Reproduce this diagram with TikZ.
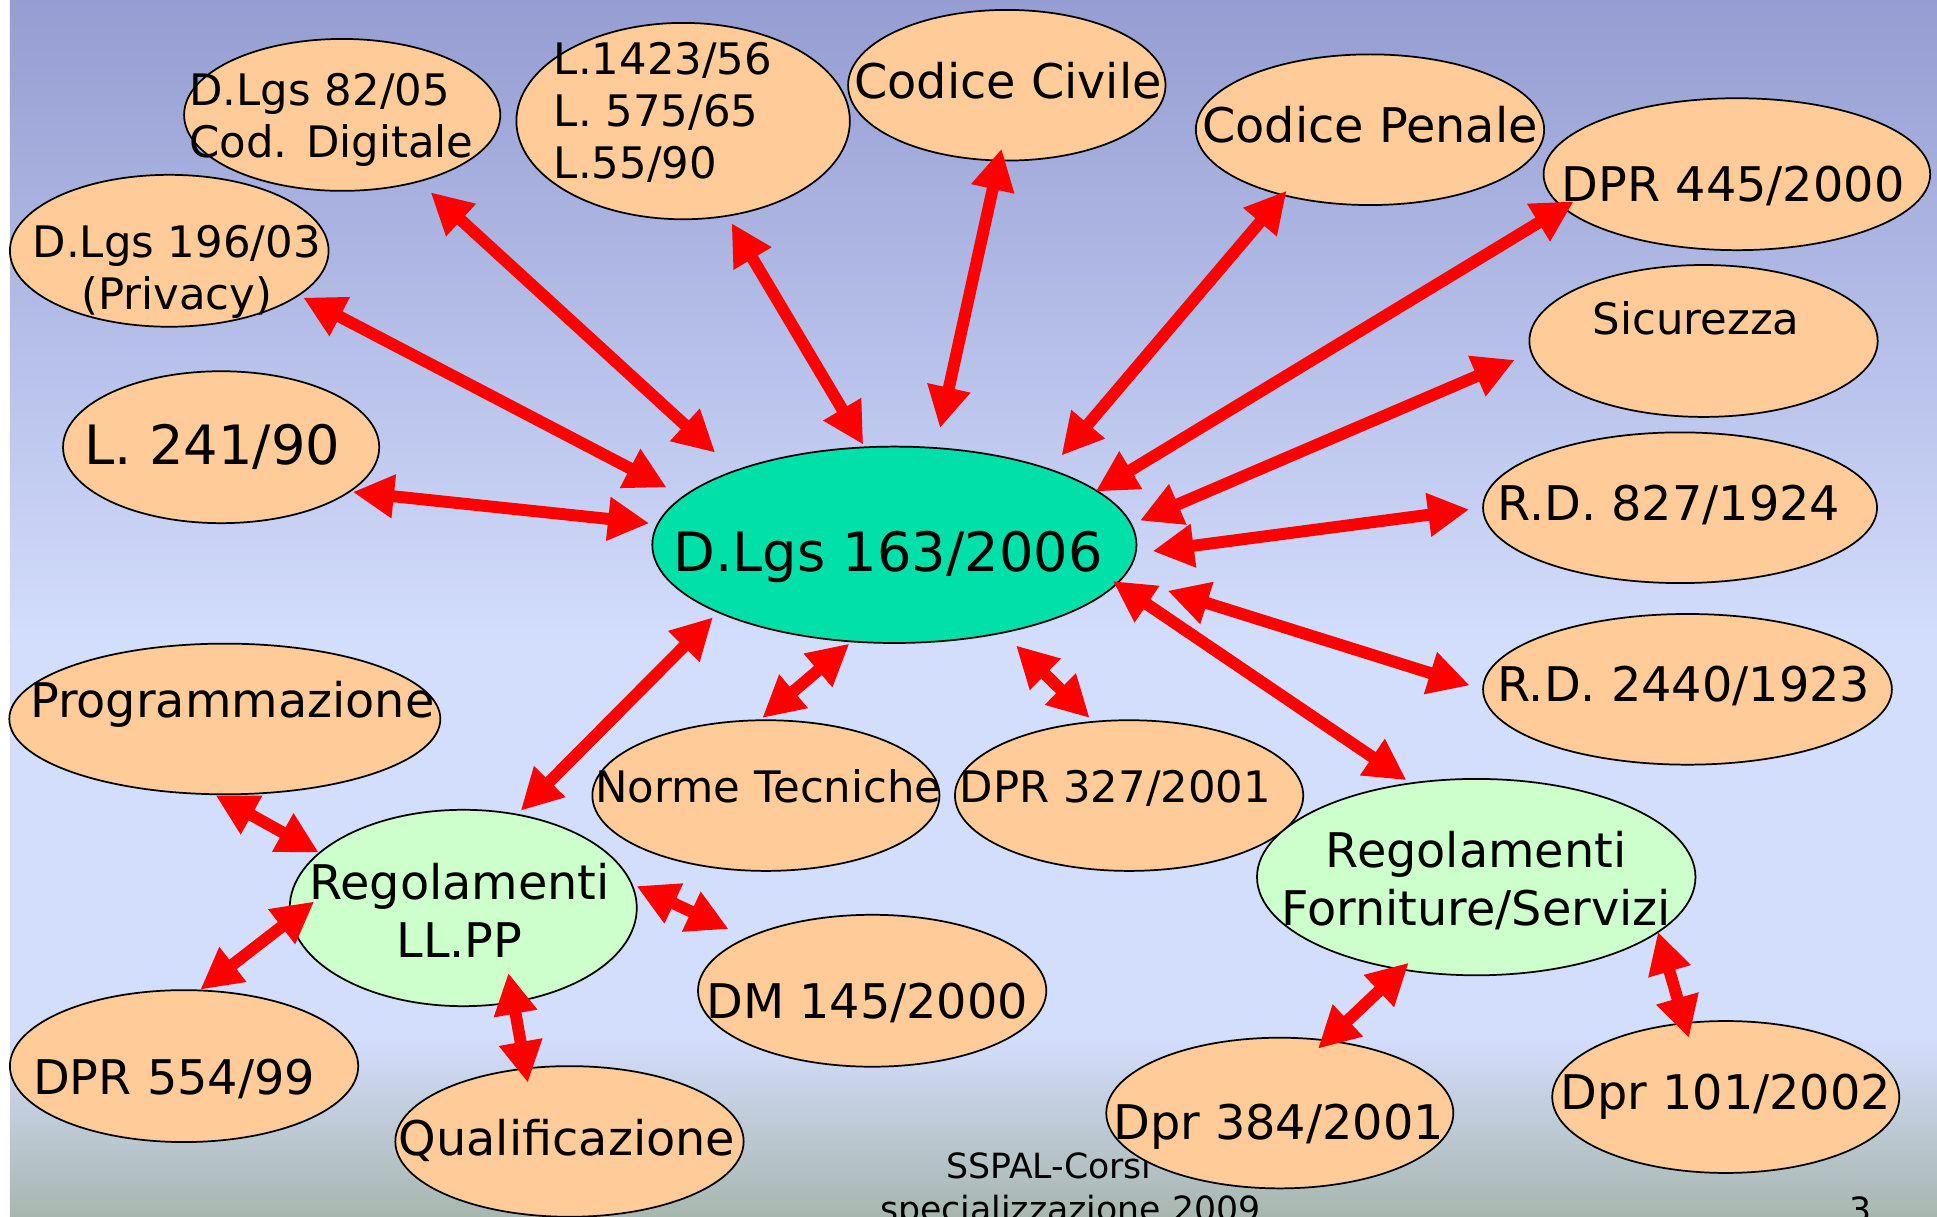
\documentclass[tikz,border=0pt]{standalone}
\usepackage{fontspec}
\setmainfont{DejaVu Sans}
\usetikzlibrary{shapes.geometric,arrows.meta}
\definecolor{peach}{HTML}{FFCC99}
\definecolor{mint}{HTML}{00E0A8}
\definecolor{paleg}{HTML}{CCFFCC}
\definecolor{bgtop}{HTML}{959DD2}
\definecolor{bgmid}{HTML}{D3DDFC}
\definecolor{bgbot}{HTML}{A7B7AF}
\tikzset{
  oval/.style 2 args={ellipse, draw=black, line width=0.8pt, fill=peach, inner sep=0pt,
    minimum width=#1cm, minimum height=#2cm},
  t25/.style={font=\fontsize{25}{30}\selectfont, text height=18.2pt, text depth=0pt, inner sep=0pt},
  t22/.style={font=\fontsize{22}{26.5}\selectfont, text height=16pt, text depth=0pt, inner sep=0pt},
  t20/.style={font=\fontsize{20}{24}\selectfont, text height=14.6pt, text depth=0pt, inner sep=0pt},
  m22/.style={font=\fontsize{22}{26.5}\selectfont, inner sep=0pt, align=center},
  m20/.style={font=\fontsize{20}{24}\selectfont, inner sep=0pt},
  foot/.style={font=\fontsize{16}{20}\selectfont, inner sep=0pt, anchor=base west},
  arr/.style={red, line width=5.5pt, {Triangle[length=19pt,width=19pt]}-{Triangle[length=19pt,width=19pt]}}
}
\begin{document}
\begin{tikzpicture}[x=0.02cm, y=-0.02cm]
\useasboundingbox (0,0) rectangle (1568,985);
\clip (0,0) rectangle (1568,985);
\fill[white] (0,0) rectangle (1568,985);
\shade[top color=bgtop, bottom color=bgmid] (8,0) rectangle (1568,521);
\fill[bgmid] (8,520) rectangle (1568,841);
\shade[top color=bgmid, bottom color=bgbot] (8,840) rectangle (1568,985);

\node[foot] (foot1) at (765.6,954) {SSPAL-Corsi};
\node[foot] (foot2) at (712,989) {specializzazione 2009};
\node[foot] (pageno) at (1497,989.5) {3};

\node[oval={5.12}{2.46}] (dlgs82) at (277,93) {};
\node[oval={5.40}{3.18}] (legge) at (553,98) {};
\node[oval={5.14}{2.44}] (civile) at (815,69) {};
\node[oval={5.64}{2.44}] (penale) at (1109,105) {};
\node[oval={6.26}{2.46}] (dpr445) at (1406,141) {};
\node[oval={5.16}{2.46}] (privacy) at (137,203) {};
\node[oval={5.64}{2.46}] (sicurezza) at (1379,276) {};
\node[oval={5.12}{2.46}] (l241) at (179,362) {};
\node[oval={7.84}{3.18}, fill=mint] (dlgs163) at (724,441) {};
\node[oval={6.38}{2.44}] (rd827) at (1360,411) {};
\node[oval={6.62}{2.44}] (rd2440) at (1366,558) {};
\node[oval={6.98}{2.44}] (progr) at (182,582) {};
\node[oval={5.62}{2.44}] (norme) at (620,644) {};
\node[oval={5.64}{2.44}] (dpr327) at (914,644) {};
\node[oval={5.62}{3.18}, fill=paleg] (reglp) at (375,735) {};
\node[oval={7.10}{3.18}, fill=paleg] (regfs) at (1195,710) {};
\node[oval={5.64}{2.46}] (dm145) at (706,802) {};
\node[oval={5.64}{2.46}] (dpr554) at (149,863) {};
\node[oval={5.64}{2.44}] (qualif) at (461,924) {};
\node[oval={5.62}{2.44}] (dpr384) at (1036,901) {};
\node[oval={5.62}{2.46}] (dpr101) at (1397,888) {};

\node[m20, align=left, anchor=west] (dlgs82t) at (153,97) {D.Lgs 82/05\\Cod. Digitale};
\node[m20, align=left, anchor=west] (legget) at (448,91) {L.1423/56\\L. 575/65\\L.55/90};
\node[t22] (civilet) at (816,66) {Codice Civile};
\node[t22] (penalet) at (1109,101) {Codice Penale};
\node[t22] (dpr445t) at (1403,149) {DPR 445/2000};
\node[m20, align=center] (privacyt) at (143,220) {D.Lgs 196/03\\(Privacy)};
\node[t20] (sicurezzat) at (1373,258) {Sicurezza};
\node[t25] (l241t) at (172,360) {L. 241/90};
\node[t25] (dlgs163t) at (719,447) {D.Lgs 163/2006};
\node[t22] (rd827t) at (1351,407) {R.D. 827/1924};
\node[t22] (rd2440t) at (1363,554) {R.D. 2440/1923};
\node[t22] (progrt) at (188,567) {Programmazione};
\node[t20] (normet) at (622,637) {Norme Tecniche};
\node[t20] (dpr327t) at (903,637) {DPR 327/2001};
\node[m22] (reglpt) at (372,737) {Regolamenti\\LL.PP};
\node[m22] (regfst) at (1195,713) {Regolamenti\\Forniture/Servizi};
\node[t22] (dm145t) at (702,810) {DM 145/2000};
\node[t22] (dpr554t) at (141,872) {DPR 554/99};
\node[t22] (qualift) at (459,921) {Qualificazione};
\node[t22] (dpr384t) at (1035,908) {Dpr 384/2001};
\node[t22] (dpr101t) at (1397,884) {Dpr 101/2002};

\draw[arr, shorten <=7pt, shorten >=12pt] (dlgs82.-41) -- (dlgs163.155);
\draw[arr, shorten <=2pt, shorten >=8.5pt] (privacy.-19) -- (dlgs163.167);
\draw[arr, shorten <=1pt, shorten >=3.5pt] (l241.-19) -- (dlgs163.175);
\draw[arr, shorten <=3.5pt, shorten >=1pt] (legge.-65) -- (dlgs163.107);
\draw[arr, shorten <=-6pt, shorten >=9pt] (civile.-96) -- (dlgs163.67);
\draw[arr, shorten <=-3pt, shorten >=8pt] (penale.217) -- (dlgs163.26);
\draw[arr, shorten <=-6pt, shorten >=-1pt] (dpr445.191) -- (dlgs163.15);
\draw[arr, shorten <=8pt, shorten >=4pt] (sicurezza.184) -- (dlgs163.5);
\draw[arr, shorten <=6pt, shorten >=7.5pt] (rd827.180) -- (dlgs163.-2);
\draw[arr, shorten <=6pt, shorten >=21pt] (rd2440.180) -- (dlgs163.-8);
\draw[arr, shorten <=2pt, shorten >=-2.5pt] (regfs.125) -- (dlgs163.-10);
\draw[arr, shorten <=2pt, shorten >=3pt] (reglp.60) -- (dlgs163.201);
\draw[arr, shorten <=1pt, shorten >=1pt] (norme.94) -- (dlgs163.246);
\draw[arr, shorten <=2pt, shorten >=8pt] (dpr327.116) -- (dlgs163.-39);
\draw[arr] (progr.263) -- (reglp.159);
\draw[arr, shorten >=-14pt] (dpr554.78) -- (reglp.184);
\draw[arr, shorten <=2pt, shorten >=9pt] (reglp.8) -- (dm145.157);
\draw[arr, shorten <=-14pt, shorten >=-7pt] (reglp.-62) -- (qualif.121);
\draw[arr, shorten <=-5pt, shorten >=-6pt] (regfs.231) -- (dpr384.57);
\draw[arr, shorten <=-0.5pt, shorten >=-7.5pt] (regfs.-17) -- (dpr101.119);
\end{tikzpicture}
\end{document}
